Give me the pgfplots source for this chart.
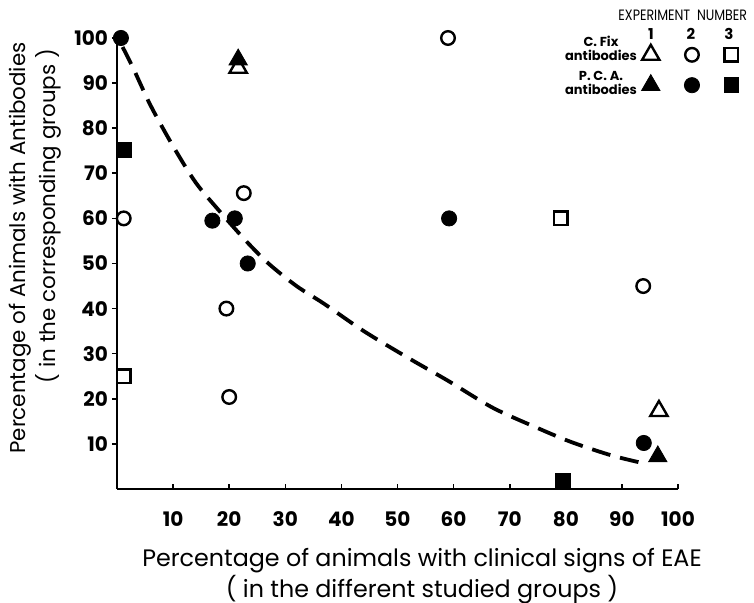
\documentclass[border=0pt]{standalone}
\usepackage{fontspec}
\setmainfont{Poppins}
\usepackage{pgfplots}
\pgfplotsset{compat=1.18}
\usetikzlibrary{calc}
\pgfplotsset{legmark/.style={legend image code/.code={\draw[##1] plot coordinates {(0pt,0pt)};}}}
\begin{document}
\begin{tikzpicture}
\begin{axis}[name=ax, scale only axis, width=280.5pt, height=225.5pt,
  xmin=0, xmax=100, ymin=0, ymax=100,
  axis lines=left, axis line style={-, line width=1pt},
  xtick={10,20,...,100}, ytick={10,20,...,100},
  xticklabels={10,20,30,40,50,60,70,80,90,100},
  yticklabels={10,20,30,40,50,60,70,80,90,100},
  tick align=inside, major tick length=2.5pt,
  ytick style={xshift=-2.5pt, line width=0.8pt, black},
  xtick style={line width=0.8pt, black},
  tick label style={font=\fontsize{10}{12}\selectfont\bfseries},
  xticklabel style={yshift=-8pt},
  yticklabel style={xshift=-1pt},
  clip=false,
  legend columns=3,
  legend style={draw=none, fill=none, inner sep=0pt, outer sep=0pt,
    nodes={inner sep=0pt, outer sep=0pt},
    /tikz/column sep=5.6pt, /tikz/row sep=6.5pt,
    at={(1,1)}, anchor=north west, xshift=-18.2pt, yshift=-3.4pt},
]
\addplot[forget plot, smooth, black, line width=1.9pt, dash pattern=on 9.5pt off 5pt] coordinates {
 (1,98) (3,93) (6,85) (10,76) (14,68) (18,62) (23,55) (27,50) (32,45) (37,41)
 (44,35) (52,29) (59,24) (67,18) (75,13.5) (81,10.4) (88,7.5) (93.5,5.8)};
\addplot[legmark, only marks, mark=triangle*, mark size=5pt, mark options={fill=white, draw=black, line width=1.2pt}] coordinates {(21.6,93.4) (96.6,17.3)};
\addlegendentry{}
\addplot[legmark, only marks, mark=*, mark size=3.4pt, mark options={fill=white, draw=black, line width=1.2pt}] coordinates {(1.2,60) (59,100) (22.6,65.6) (19.5,40) (20,20.4) (93.8,45)};
\addlegendentry{}
\addplot[legmark, only marks, mark=square*, mark size=3.4pt, mark options={fill=white, draw=black, line width=1.2pt}] coordinates {(79.1,60) (1.2,25)};
\addlegendentry{}
\addplot[legmark, only marks, mark=triangle*, mark size=5.3pt, mark options={fill=black, draw=black}] coordinates {(21.6,95.2) (96.4,7.2)};
\addlegendentry{}
\addplot[legmark, only marks, mark=*, mark size=3.8pt, mark options={fill=black, draw=black}] coordinates {(0.7,100) (17,59.5) (21,60) (23.3,50) (59.2,60) (93.9,10.2)};
\addlegendentry{}
\addplot[legmark, only marks, mark=square*, mark size=3.7pt, mark options={fill=black, draw=black}] coordinates {(1.2,75.2) (79.5,1.8)};
\addlegendentry{}
\end{axis}
\node[font=\fontsize{7.5}{9}\selectfont, xscale=0.84, anchor=east] at ($(ax.north east)+(37.5pt,11.5pt)$) {EXPERIMENT\ \ NUMBER};
\node[font=\fontsize{7.5}{9}\selectfont\bfseries] at ($(ax.north east)+(-13.5pt,2pt)$) {1};
\node[font=\fontsize{7.5}{9}\selectfont\bfseries] at ($(ax.north east)+(6.5pt,2pt)$) {2};
\node[font=\fontsize{7.5}{9}\selectfont\bfseries] at ($(ax.north east)+(25.5pt,2pt)$) {3};
\node[font=\fontsize{6.5}{7}\selectfont\bfseries, align=center] at ($(ax.north east)+(-38.5pt,-5pt)$) {C. Fix\\antibodies};
\node[font=\fontsize{6.5}{7}\selectfont\bfseries, align=center] at ($(ax.north east)+(-38.5pt,-22.5pt)$) {P. C. A.\\antibodies};
\node[rotate=90, font=\fontsize{10.7}{13}\selectfont] at ($(ax.south west)+(-48.5pt,120.5pt)$) {Percentage of Animals with Antibodies};
\node[rotate=90, font=\fontsize{10.7}{13}\selectfont] at ($(ax.south west)+(-34.5pt,136.5pt)$) {( in the corresponding groups )};
\node[align=center, font=\fontsize{11.9}{12}\selectfont] at ($(ax.south west)+(152.5pt,-43.5pt)$) {Percentage of animals with clinical signs of EAE\\( in the different studied groups )};
\pgfresetboundingbox
\path[use as bounding box] ($(ax.south west)+(-58.5pt,-57pt)$) rectangle ($(ax.north east)+(38pt,19pt)$);
\end{tikzpicture}
\end{document}
